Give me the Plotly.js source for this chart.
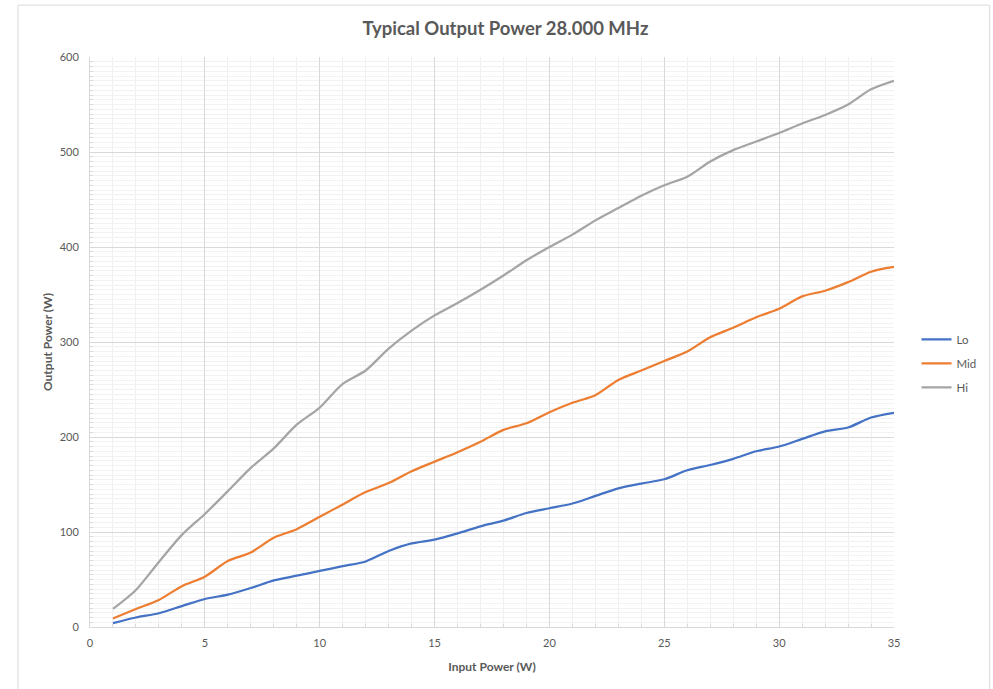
<!DOCTYPE html>
<html>
<head>
<meta charset="utf-8">
<script src="https://cdn.plot.ly/plotly-3.0.1.min.js"></script>
<style>html,body{margin:0;padding:0;background:#fff;}#chart{width:993px;height:689px;}</style>
</head>
<body>
<div id="chart"></div>
<script>
const inputPower = [1,2,3,4,5,6,7,8,9,10,11,12,13,14,15,16,17,18,19,20,21,22,23,24,25,26,27,28,29,30,31,32,33,34,35];
const lo  = [4,10,14.5,22,29.5,34,41,49,54,59,64,69,80,88,92,98.5,106,112,120,125,130,138,146,151,155.5,165,170.5,177,185,190,198,206,210,220.5,225.5];
const mid = [9,19,28.5,43,53,69.5,78.5,94,103,116,129,142,151.5,164,174,184,195,207.5,214.5,226,236,244,260,270,280,290,305,315,326,335,348,354,363,374,379];
const hi  = [19,39,68.5,97,119,143,167.5,188,213,231,256,270,293,312,328,341,355,370,386,400,413,428,441,454,465,474,490,502,511,520,530,539,550,566,575];
const seriesNames = ['Lo','Mid','Hi'];
const seriesColors = ['#4472C4','#ED7D31','#A5A5A5'];
const titleText = 'Typical Output Power 28.000 MHz';
const xTitle = 'Input Power (W)';
const yTitle = 'Output Power (W)';

const FONT = 'Lato, "Open Sans", sans-serif';
const traces = [lo, mid, hi].map((ys, i) => ({
  x: inputPower, y: ys, type: 'scatter', mode: 'lines', name: seriesNames[i],
  legendgroup: 'g' + i,
  line: {color: seriesColors[i], width: 2.25, shape: 'spline', smoothing: 0.8},
  hoverinfo: 'x+y+name'
}));

const layout = {
  width: 993, height: 689,
  margin: {l: 90, r: 99, t: 57, b: 62},
  paper_bgcolor: '#ffffff', plot_bgcolor: '#ffffff',
  font: {family: FONT, color: '#595959', size: 11},
  title: {text: '<b>' + titleText + '</b>', font: {family: FONT, size: 18.5, color: '#595959'}, x: 0.509, xanchor: 'center', y: 0.958, yanchor: 'middle'},
  showlegend: true,
  legend: {x: 1.028, xanchor: 'left', y: 0.53, yanchor: 'top', traceorder: 'grouped', tracegroupgap: 5,
           font: {family: FONT, size: 11.5, color: '#595959'}, itemwidth: 30, bgcolor: 'rgba(0,0,0,0)'},
  xaxis: {
    range: [0, 35], dtick: 5, tick0: 0, showgrid: true, gridcolor: '#d9d9d9', gridwidth: 1,
    zeroline: false, showline: true, linecolor: '#d9d9d9', linewidth: 1, mirror: false,
    ticks: '', tickfont: {family: FONT, size: 11, color: '#595959'}, ticklabelstandoff: 6,
    minor: {dtick: 1, showgrid: true, gridcolor: '#f0f0f0', gridwidth: 1, ticks: 'inside', ticklen: 3, tickcolor: '#d9d9d9'},
    title: {text: '<b>' + xTitle + '</b>', font: {family: FONT, size: 12, color: '#595959'}, standoff: 14},
    fixedrange: true
  },
  yaxis: {
    range: [0, 600], dtick: 100, tick0: 0, showgrid: true, gridcolor: '#d9d9d9', gridwidth: 1,
    zeroline: false, showline: true, linecolor: '#d9d9d9', linewidth: 1,
    ticks: '', tickfont: {family: FONT, size: 11, color: '#595959'}, ticklabelstandoff: 8,
    minor: {dtick: 5, showgrid: true, gridcolor: '#f2f2f2', gridwidth: 1, ticks: 'inside', ticklen: 3, tickcolor: '#d9d9d9'},
    title: {text: '<b>' + yTitle + '</b>', font: {family: FONT, size: 12, color: '#595959'}, standoff: 4},
    fixedrange: true
  },
  shapes: [
    {type: 'line', xref: 'paper', yref: 'paper', x0: -0.0896, x1: -0.0896, y0: -0.11, y1: 1.091, line: {color: '#d9d9d9', width: 1}},
    {type: 'line', xref: 'paper', yref: 'paper', x0: -0.0896, x1: 1.119, y0: 1.091, y1: 1.091, line: {color: '#d9d9d9', width: 1}},
    {type: 'line', xref: 'paper', yref: 'paper', x0: 1.119, x1: 1.119, y0: -0.11, y1: 1.091, line: {color: '#d9d9d9', width: 1}}
  ]
};

Plotly.newPlot('chart', traces, layout, {displayModeBar: false, staticPlot: false, responsive: false});
</script>
</body>
</html>
